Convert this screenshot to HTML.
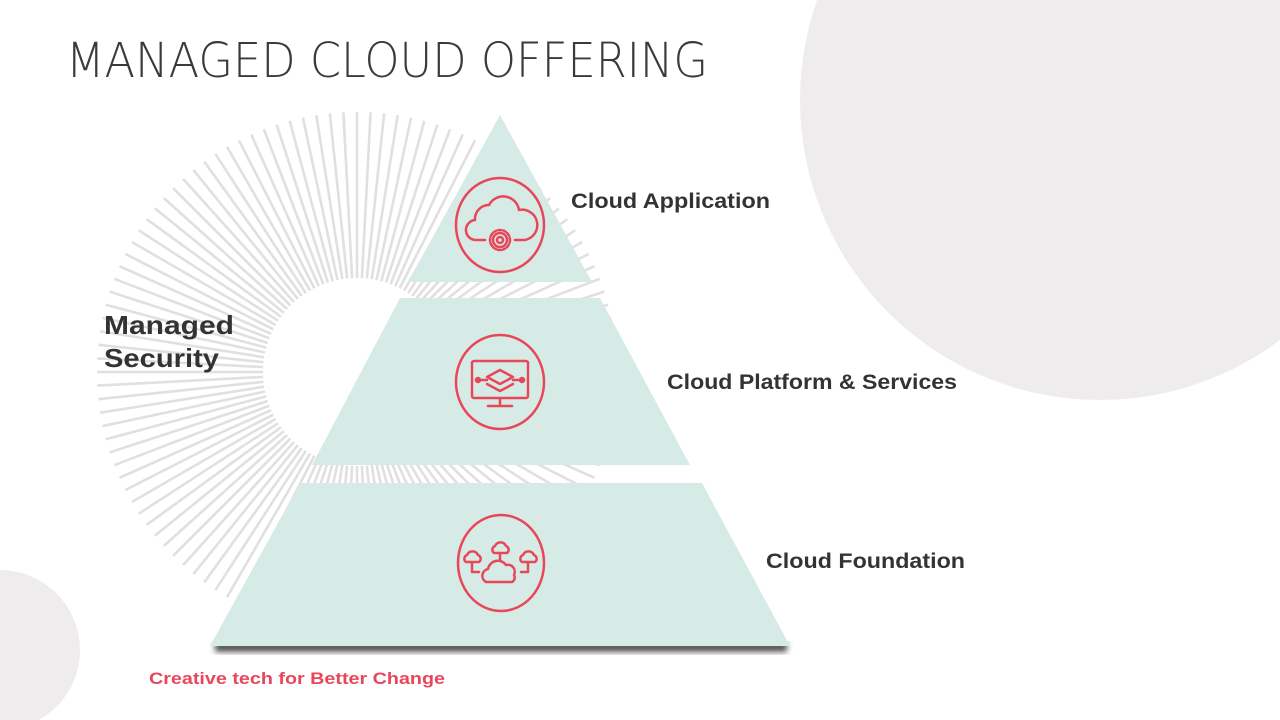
<!DOCTYPE html>
<html><head><meta charset="utf-8"><style>
html,body{margin:0;padding:0;background:#fff;}
svg{display:block;}
text{font-family:"Liberation Sans",sans-serif;}
</style></head><body>
<svg width="1280" height="720" viewBox="0 0 1280 720" xmlns="http://www.w3.org/2000/svg">
<defs>
<filter id="sh" x="-10%" y="-10%" width="120%" height="140%"><feGaussianBlur stdDeviation="3"/></filter>
<line id="r0" x1="94" y1="0" x2="260" y2="0" stroke="#e0e0e0" stroke-width="2.6"/>
<g id="r1"><use href="#r0"/><use href="#r0" transform="rotate(3)"/></g>
<g id="r2"><use href="#r1"/><use href="#r1" transform="rotate(6)"/><use href="#r1" transform="rotate(12)"/></g>
</defs>
<rect width="1280" height="720" fill="#fff"/>
<circle cx="1100" cy="100" r="300" fill="#eeeced"/>
<circle cx="0" cy="650" r="80" fill="#eeeced"/>
<text x="66" y="77" font-size="48" fill="#3a3a3a" textLength="642" lengthAdjust="spacingAndGlyphs" style="font-family:'DejaVu Sans ExtraLight','DejaVu Sans',sans-serif;font-weight:200">MANAGED CLOUD OFFERING</text>
<g transform="translate(357,372)">
<use href="#r2"/><use href="#r2" transform="rotate(18)"/><use href="#r2" transform="rotate(36)"/><use href="#r2" transform="rotate(54)"/><use href="#r2" transform="rotate(72)"/>
<use href="#r2" transform="rotate(90)"/><use href="#r2" transform="rotate(108)"/><use href="#r2" transform="rotate(126)"/><use href="#r2" transform="rotate(144)"/><use href="#r2" transform="rotate(162)"/>
<use href="#r2" transform="rotate(180)"/><use href="#r2" transform="rotate(198)"/><use href="#r2" transform="rotate(216)"/><use href="#r2" transform="rotate(234)"/><use href="#r2" transform="rotate(252)"/>
<use href="#r2" transform="rotate(270)"/><use href="#r2" transform="rotate(288)"/><use href="#r2" transform="rotate(306)"/><use href="#r2" transform="rotate(324)"/><use href="#r2" transform="rotate(342)"/>
</g>
<rect x="215" y="642" width="572" height="10" fill="#555" filter="url(#sh)"/>
<polygon points="500,115 592,282 408,282" fill="#d7ebe6"/>
<polygon points="400,298 600,298 690,465 312,465" fill="#d7ebe6"/>
<polygon points="300,483 702,483 790,646 210,646" fill="#d7ebe6"/>
<g fill="none" stroke="#e8475a" stroke-width="2.5" stroke-linecap="round" stroke-linejoin="round">
<ellipse cx="500" cy="225" rx="44" ry="47"/>
<path d="M485,240 h-8 a10,10 0 0 1 -2,-20 a14,14 0 0 1 14,-15 a16,16 0 0 1 30,5 a10,10 0 0 1 6,30 h-10"/>
<circle cx="500" cy="240" r="10" stroke-dasharray="3,2"/><circle cx="500" cy="240" r="7"/><circle cx="500" cy="240" r="3"/>
<ellipse cx="500" cy="382" rx="44" ry="47"/>
<rect x="472" y="361" width="56" height="37" rx="2"/>
<path d="M500,404 v-6 M488,406 h24"/>
<path d="M487,377 l13,-7 l13,7 l-13,7 z M487,384 l13,7 l13,-7"/>
<path d="M478,380 h9 M513,380 h9"/>
<circle cx="478" cy="380" r="2"/><circle cx="522" cy="380" r="2"/>
<ellipse cx="501" cy="563" rx="43" ry="48"/>
<path d="M486,582 a7,7 0 0 1 2,-13 a10,10 0 0 1 18,-4 a7,7 0 0 1 8,10 a5,5 0 0 1 -2,7 z"/>
<path d="M494,553 a4,4 0 0 1 1,-7 a6,6 0 0 1 11,0 a4,4 0 0 1 1,7 z M500,553 v7"/>
<path d="M466,562 a4,4 0 0 1 1,-7 a6,6 0 0 1 11,0 a4,4 0 0 1 1,7 z M472,562 v10 h7"/>
<path d="M522,562 a4,4 0 0 1 1,-7 a6,6 0 0 1 11,0 a4,4 0 0 1 1,7 z M528,562 v10 h-7"/>
</g>
<g font-weight="bold" fill="#333">
<text x="571" y="208" font-size="21" textLength="199" lengthAdjust="spacingAndGlyphs">Cloud Application</text>
<text x="667" y="389" font-size="21" textLength="290" lengthAdjust="spacingAndGlyphs">Cloud Platform &amp; Services</text>
<text x="766" y="568" font-size="21" textLength="199" lengthAdjust="spacingAndGlyphs">Cloud Foundation</text>
<text x="104" y="334" font-size="26" textLength="130" lengthAdjust="spacingAndGlyphs">Managed</text>
<text x="104" y="367" font-size="26" textLength="115" lengthAdjust="spacingAndGlyphs">Security</text>
<text x="149" y="684" font-size="17" fill="#e8475a" textLength="296" lengthAdjust="spacingAndGlyphs">Creative tech for Better Change</text>
</g>
</svg>
</body></html>
